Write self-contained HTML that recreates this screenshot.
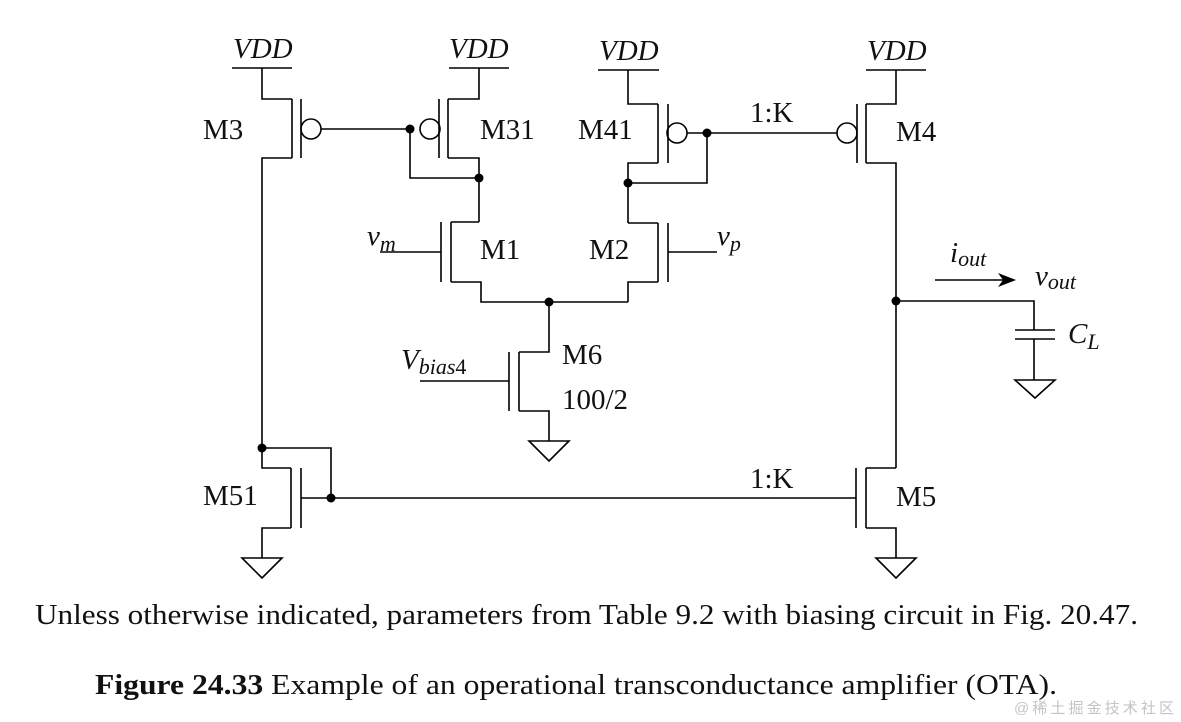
<!DOCTYPE html>
<html><head><meta charset="utf-8"><style>
html,body{margin:0;padding:0;background:#fff}
svg{display:block}
text{font-family:"Liberation Serif",serif;fill:#111}
</style></head><body>
<svg width="1181" height="722" viewBox="0 0 1181 722" xmlns="http://www.w3.org/2000/svg">
<g stroke="#000" stroke-width="1.6" fill="none">
<path d="M232 68H292M262 68V99H292M292 99V158M301 99V158M292 158H262V448"/>
<circle cx="311" cy="129" r="10"/>
<path d="M321 129H410"/>
<circle cx="430" cy="129" r="10"/>
<path d="M439 99V158M448 99V158M449 68H509M479 68V99H448M448 158H479V222"/>
<path d="M410 129V178H479"/>
<path d="M479 222H451M451 222V282M441 222V282M380 252H441M451 282H481V302H628"/>
<path d="M598 70H659M628 70V104H658M658 104V163M668 104V163M658 163H628V223"/>
<circle cx="677" cy="133" r="10"/>
<path d="M687 133H837M628 183H707V133"/>
<path d="M628 223H658M658 223V282M668 223V282M668 252H717M658 282H628V302"/>
<circle cx="847" cy="133" r="10"/>
<path d="M857 104V163M866 104V163M866 70H926M896 70V104H866M866 163H896V468"/>
<path d="M549 302V352H519M519 352V411M509 352V411M420 381H509M519 411H549V441"/>
<path d="M529 441H569L549 461Z"/>
<path d="M262 448H331V498M262 448V468H291M291 468V528M301 468V528M301 498H856M291 528H262V558"/>
<path d="M242 558H282L262 578Z"/>
<path d="M856 468V528M866 468V528M866 468H896M866 528H896V558"/>
<path d="M876 558H916L896 578Z"/>
<path d="M896 301H1034V330M1015 330H1055M1015 339H1055M1034 339V380"/>
<path d="M1015 380H1055L1035 398Z"/>
<path d="M935 280H1005"/>
</g>
<path d="M1016 280L998 273L1003 280L998 287Z" fill="#000"/>
<g fill="#000">
<circle cx="410" cy="129" r="4.5"/><circle cx="479" cy="178" r="4.5"/>
<circle cx="707" cy="133" r="4.5"/><circle cx="628" cy="183" r="4.5"/>
<circle cx="549" cy="302" r="4.5"/><circle cx="896" cy="301" r="4.5"/>
<circle cx="262" cy="448" r="4.5"/><circle cx="331" cy="498" r="4.5"/>
</g>
<g font-size="29">
<text x="233" y="58" font-style="italic">VDD</text>
<text x="449" y="58" font-style="italic">VDD</text>
<text x="599" y="60" font-style="italic">VDD</text>
<text x="867" y="60" font-style="italic">VDD</text>
<text x="203" y="139">M3</text>
<text x="480" y="139">M31</text>
<text x="578" y="139">M41</text>
<text x="896" y="141">M4</text>
<text x="750" y="122">1:K</text>
<text x="480" y="259">M1</text>
<text x="589" y="259">M2</text>
<text x="367" y="245" font-style="italic">v<tspan font-size="22" dy="6">m</tspan></text>
<text x="717" y="245" font-style="italic">v<tspan font-size="22" dy="6">p</tspan></text>
<text x="562" y="364">M6</text>
<text x="562" y="409">100/2</text>
<text x="401" y="369" font-style="italic">V<tspan font-size="22" dy="5">bias</tspan><tspan font-size="22" font-style="normal">4</tspan></text>
<text x="203" y="505">M51</text>
<text x="750" y="488">1:K</text>
<text x="896" y="506">M5</text>
<text x="950" y="262" font-style="italic">i<tspan font-size="22" dy="4">out</tspan></text>
<text x="1035" y="285" font-style="italic">v<tspan font-size="22" dy="4">out</tspan></text>
<text x="1068" y="343" font-style="italic">C<tspan font-size="22" dy="6">L</tspan></text>
<text x="35" y="624" textLength="1103" lengthAdjust="spacingAndGlyphs">Unless otherwise indicated, parameters from Table 9.2 with biasing circuit in Fig. 20.47.</text>
<text x="95" y="694" textLength="962" lengthAdjust="spacingAndGlyphs"><tspan font-weight="bold">Figure 24.33</tspan>   Example of an operational transconductance amplifier (OTA).</text>
</g>
<text x="1014" y="713" font-size="15" textLength="160" style="fill:#c4c4c4;font-family:'Liberation Sans','Noto Sans CJK SC',sans-serif">@稀土掘金技术社区</text>
</svg>
</body></html>
